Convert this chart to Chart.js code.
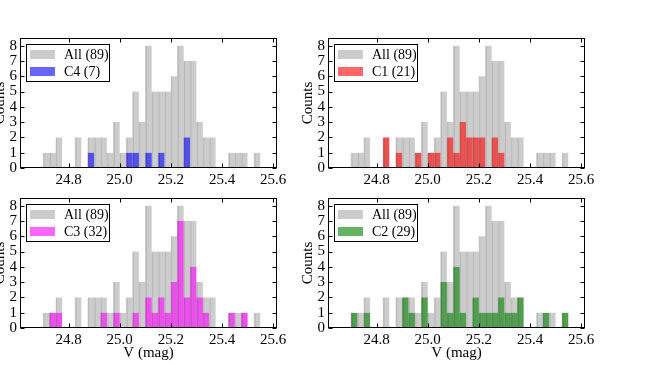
<!DOCTYPE html>
<html>
<head>
<meta charset="utf-8">
<script src="https://cdn.jsdelivr.net/npm/chart.js@4.4.1/dist/chart.umd.min.js"></script>
<style>
  html, body { margin: 0; padding: 0; background: #fff; width: 658px; height: 365px; overflow: hidden; }
  .panel { position: absolute; }
</style>
</head>
<body>
<div class="panel" id="p1"><canvas id="c1"></canvas></div>
<div class="panel" id="p2"><canvas id="c2"></canvas></div>
<div class="panel" id="p3"><canvas id="c3"></canvas></div>
<div class="panel" id="p4"><canvas id="c4"></canvas></div>
<script>
// histogram bin centres, V (mag), bins of 0.025 mag
var binCenters = [24.7125, 24.7375, 24.7625, 24.7875, 24.8125, 24.8375, 24.8625, 24.8875,
                  24.9125, 24.9375, 24.9625, 24.9875, 25.0125, 25.0375, 25.0625, 25.0875,
                  25.1125, 25.1375, 25.1625, 25.1875, 25.2125, 25.2375, 25.2625, 25.2875,
                  25.3125, 25.3375, 25.3625, 25.3875, 25.4125, 25.4375, 25.4625, 25.4875,
                  25.5125, 25.5375];

var allCounts = [1,1,2,0,0,2,0,2,2,2,1,3,1,2,5,3,8,5,5,5,6,8,7,7,3,2,2,0,0,1,1,1,0,1];
var c4Counts  = [0,0,0,0,0,0,0,1,0,0,0,0,0,1,1,0,1,0,1,0,0,0,2,0,0,0,0,0,0,0,0,0,0,0];
var c1Counts  = [0,0,0,0,0,2,0,1,0,0,1,0,1,1,0,2,1,3,2,2,2,0,2,1,0,0,0,0,0,0,0,0,0,0];
var c3Counts  = [0,1,1,0,0,0,0,0,0,1,0,1,0,0,1,0,2,1,2,1,3,7,2,4,2,1,0,0,0,1,0,1,0,0];
var c2Counts  = [1,0,1,0,0,0,0,0,2,1,0,2,0,0,3,1,4,1,0,2,1,1,1,2,1,1,2,0,0,0,1,0,0,1];

var xTicks = [24.8, 25.0, 25.2, 25.4, 25.6];
var yTicks = [0, 1, 2, 3, 4, 5, 6, 7, 8];

var FONT = "'Liberation Serif', 'DejaVu Serif', serif";
var PLOT_W = 257, PLOT_H = 132, AXIS_W = 36, PAD_TOP = 10, PAD_RIGHT = 22;

// frame, inward ticks on all sides, and the legend box
var framePlugin = {
  id: 'frame',
  afterDatasetsDraw: function(chart) {
    var ctx = chart.ctx, a = chart.chartArea;
    var xs = chart.scales.x, ys = chart.scales.y;
    var L = Math.round(a.left) + 0.5, R = Math.round(a.right) - 0.5;
    var T = Math.round(a.top) + 0.5, B = Math.round(a.bottom) - 0.5;
    ctx.save();
    ctx.strokeStyle = '#000';
    ctx.lineWidth = 1;
    ctx.strokeRect(L, T, R - L, B - T);
    ctx.beginPath();
    xs.ticks.forEach(function(t) {
      var px = Math.round(xs.getPixelForValue(t.value)) + 0.5;
      ctx.moveTo(px, B); ctx.lineTo(px, B - 4);
      ctx.moveTo(px, T); ctx.lineTo(px, T + 4);
    });
    ys.ticks.forEach(function(t) {
      var py = Math.round(ys.getPixelForValue(t.value)) + 0.5;
      ctx.moveTo(L, py); ctx.lineTo(L + 4, py);
      ctx.moveTo(R, py); ctx.lineTo(R - 4, py);
    });
    ctx.stroke();

    // legend
    var bx = Math.round(a.left) + 6, by = Math.round(a.top) + 6, bw = 84, bh = 38;
    ctx.fillStyle = '#fff';
    ctx.fillRect(bx, by, bw, bh);
    ctx.strokeRect(bx + 0.5, by + 0.5, bw - 1, bh - 1);
    ctx.font = '14px ' + FONT;
    ctx.textBaseline = 'middle';
    ctx.textAlign = 'left';
    var ds = chart.data.datasets;
    [1, 0].forEach(function(di, row) {
      var cy = by + 10.5 + row * 17;
      ctx.fillStyle = ds[di].backgroundColor;
      ctx.fillRect(bx + 4, cy - 4.5, 25, 9);
      ctx.fillStyle = '#000';
      ctx.fillText(ds[di].label, bx + 38, cy + 0.5);
    });
    ctx.restore();
  }
};

function makePanel(divId, canvasId, left, top, subLabel, subCounts, subColor, subEdge, xTitle) {
  var canvasH = xTitle ? 365 - top : PAD_TOP + PLOT_H + 30;
  var canvasW = AXIS_W + PLOT_W + PAD_RIGHT;
  var div = document.getElementById(divId);
  div.style.left = left + 'px';
  div.style.top = top + 'px';
  var cv = document.getElementById(canvasId);
  cv.width = canvasW; cv.height = canvasH;
  cv.style.width = canvasW + 'px'; cv.style.height = canvasH + 'px';

  new Chart(cv.getContext('2d'), {
    type: 'bar',
    data: {
      datasets: [{
        label: subLabel,
        data: binCenters.map(function(x, i) { return {x: x, y: subCounts[i]}; }),
        backgroundColor: subColor,
        borderColor: subEdge,
        borderWidth: {left: 1, right: 0, top: 0, bottom: 0},
        order: 1
      }, {
        label: 'All (89)',
        data: binCenters.map(function(x, i) { return {x: x, y: allCounts[i]}; }),
        backgroundColor: 'rgba(128,128,128,0.4)',
        borderColor: 'rgba(110,110,110,0.35)',
        borderWidth: {left: 1, right: 0, top: 0, bottom: 0},
        order: 2
      }]
    },
    options: {
      responsive: false,
      animation: false,
      events: [],
      devicePixelRatio: 1,
      layout: { padding: { top: PAD_TOP, right: PAD_RIGHT, left: 0, bottom: 0 } },
      datasets: { bar: { grouped: false, barPercentage: 1, categoryPercentage: 1 } },
      plugins: { legend: { display: false }, tooltip: { enabled: false } },
      scales: {
        x: {
          type: 'linear',
          min: 24.61, max: 25.615,
          offset: false,
          grid: { display: false, drawTicks: false },
          border: { display: false },
          afterBuildTicks: function(s) { s.ticks = xTicks.map(function(v) { return {value: v}; }); },
          afterFit: function(s) { s.height = canvasH - PAD_TOP - PLOT_H; },
          ticks: {
            color: '#000', padding: 3, maxRotation: 0, autoSkip: false,
            font: { family: FONT, size: 15 },
            callback: function(v) { return v.toFixed(1); }
          },
          title: {
            display: !!xTitle, text: 'V (mag)', color: '#000',
            font: { family: FONT, size: 15 },
            padding: { top: 0, bottom: 3 }
          }
        },
        y: {
          min: 0, max: 8.5,
          grid: { display: false, drawTicks: false },
          border: { display: false },
          afterBuildTicks: function(s) { s.ticks = yTicks.map(function(v) { return {value: v}; }); },
          afterFit: function(s) { s.width = AXIS_W; },
          ticks: {
            color: '#000', padding: 3, autoSkip: false,
            font: { family: FONT, size: 15 },
            callback: function(v) { return String(v); }
          },
          title: {
            display: true, text: 'Counts', color: '#000',
            font: { family: FONT, size: 15 },
            padding: { top: 7, bottom: 0 }
          }
        }
      }
    },
    plugins: [framePlugin]
  });
}

makePanel('p1', 'c1', -16, 26,  'C4 (7)',  c4Counts, 'rgba(0,0,255,0.6)',   'rgba(0,0,150,0.35)', false);
makePanel('p2', 'c2', 292, 26,  'C1 (21)', c1Counts, 'rgba(255,0,0,0.6)',   'rgba(150,0,0,0.35)', false);
makePanel('p3', 'c3', -16, 186, 'C3 (32)', c3Counts, 'rgba(255,0,255,0.6)', 'rgba(150,0,150,0.35)', true);
makePanel('p4', 'c4', 292, 186, 'C2 (29)', c2Counts, 'rgba(0,128,0,0.6)',   'rgba(0,70,0,0.35)', true);
</script>
</body>
</html>
